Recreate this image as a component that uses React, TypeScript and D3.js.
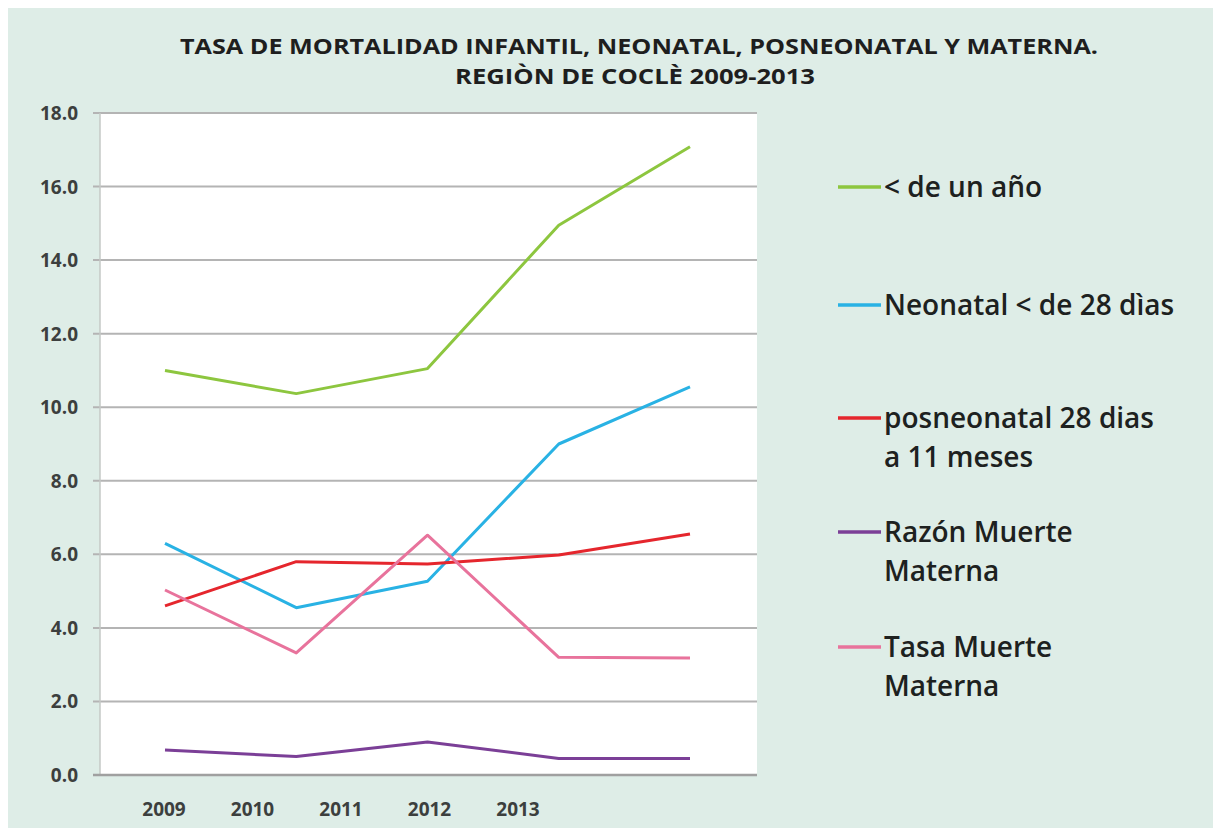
import * as d3 from "d3";
import React, {useEffect, useRef} from "react";

const years = ["2009", "2010", "2011", "2012", "2013"];
const menorUnAnio = [11.0, 10.37, 11.05, 14.95, 17.08];
const neonatal = [6.3, 4.55, 5.27, 9.0, 10.55];
const posneonatal = [4.6, 5.8, 5.74, 5.98, 6.55];
const razonMaterna = [0.68, 0.5, 0.9, 0.45, 0.45];
const tasaMaterna = [5.03, 3.32, 6.52, 3.2, 3.18];
const yTicks = [0, 2, 4, 6, 8, 10, 12, 14, 16, 18];

const series = [
    {values: menorUnAnio, color: "#8dc63f", label: ["< de un año"]},
    {values: neonatal, color: "#29b2e4", label: ["Neonatal < de 28 dìas"]},
    {values: posneonatal, color: "#e5262d", label: ["posneonatal 28 dias", "a 11 meses"]},
    {values: razonMaterna, color: "#7b3f97", label: ["Razón Muerte", "Materna"]},
    {values: tasaMaterna, color: "#e8739c", label: ["Tasa Muerte", "Materna"]},
];
// draw order: the ones underneath first
const drawOrder = [3, 0, 1, 2, 4];

const App = () => {
    const ref = useRef(null);

    useEffect(() => {
        const root = d3.select(ref.current);
        root.selectAll("*").remove();
        // page coordinates (body margin is 8px)
        const svg = root.append("g").attr("transform", "translate(-8,-8)");

        svg.append("rect")
            .attr("x", 8).attr("y", 8)
            .attr("width", 1213).attr("height", 820)
            .attr("fill", "#deede7");

        const plot = {left: 100, right: 757, top: 113, bottom: 775};

        svg.append("rect")
            .attr("x", plot.left).attr("y", plot.top)
            .attr("width", plot.right - plot.left)
            .attr("height", plot.bottom - plot.top)
            .attr("fill", "#ffffff");

        // title
        const title = svg.append("g")
            .attr("font-family", "'Open Sans', sans-serif")
            .attr("font-weight", "bold")
            .attr("font-size", 22)
            .attr("fill", "#1e1e1e")
            .attr("text-anchor", "middle");
        title.append("text")
            .attr("x", 639).attr("y", 54)
            .attr("textLength", 918).attr("lengthAdjust", "spacingAndGlyphs")
            .text("TASA DE MORTALIDAD INFANTIL, NEONATAL, POSNEONATAL Y MATERNA.");
        title.append("text")
            .attr("x", 635).attr("y", 84)
            .attr("textLength", 360).attr("lengthAdjust", "spacingAndGlyphs")
            .text("REGIÒN DE COCLÈ 2009-2013");

        const y = d3.scaleLinear()
            .domain([0, 18])
            .range([plot.bottom, plot.top]);

        // data points don't line up with the year labels in the original
        const x = d3.scalePoint()
            .domain(d3.range(years.length))
            .range([165, 690]);
        const xLabel = d3.scalePoint()
            .domain(years)
            .range([164, 518]);

        // gridlines
        svg.append("g")
            .selectAll("line")
            .data(yTicks.filter(d => d > 0))
            .join("line")
            .attr("x1", plot.left - 7)
            .attr("x2", plot.right)
            .attr("y1", d => y(d))
            .attr("y2", d => y(d))
            .attr("stroke", "#b4b4b4")
            .attr("stroke-width", 2);

        // axes
        svg.append("line")
            .attr("x1", plot.left).attr("x2", plot.left)
            .attr("y1", plot.top).attr("y2", plot.bottom)
            .attr("stroke", "#c4c8c6").attr("stroke-width", 1.5);
        svg.append("line")
            .attr("x1", plot.left - 7).attr("x2", plot.right)
            .attr("y1", plot.bottom).attr("y2", plot.bottom)
            .attr("stroke", "#a0a0a0").attr("stroke-width", 2.5);

        svg.append("g")
            .attr("font-family", "'Open Sans', sans-serif")
            .attr("font-weight", "bold")
            .attr("font-size", 19)
            .attr("fill", "#3c3f3e")
            .attr("text-anchor", "end")
            .selectAll("text")
            .data(yTicks)
            .join("text")
            .attr("x", 78)
            .attr("y", d => y(d) + 7)
            .text(d => d3.format(".1f")(d));

        svg.append("g")
            .attr("font-family", "'Open Sans', sans-serif")
            .attr("font-weight", "bold")
            .attr("font-size", 19)
            .attr("fill", "#3c3f3e")
            .attr("text-anchor", "middle")
            .selectAll("text")
            .data(years)
            .join("text")
            .attr("x", d => xLabel(d))
            .attr("y", 816)
            .text(d => d);

        const line = d3.line()
            .x((d, i) => x(i))
            .y(d => y(d));

        svg.append("g")
            .selectAll("path")
            .data(drawOrder.map(i => series[i]))
            .join("path")
            .attr("d", d => line(d.values))
            .attr("fill", "none")
            .attr("stroke", d => d.color)
            .attr("stroke-width", 3)
            .attr("stroke-linejoin", "round");

        // legend
        const legendY = [187, 305, 418, 532, 647];
        const legend = svg.append("g")
            .selectAll("g")
            .data(series)
            .join("g")
            .attr("transform", (d, i) => `translate(0,${legendY[i]})`);
        legend.append("line")
            .attr("x1", 838).attr("x2", 881)
            .attr("y1", 0).attr("y2", 0)
            .attr("stroke", d => d.color)
            .attr("stroke-width", 3.5);
        legend.append("text")
            .attr("font-family", "'Open Sans', sans-serif")
            .attr("font-size", 28)
            .attr("font-weight", 600)
            .attr("fill", "#1d2120")
            .selectAll("tspan")
            .data(d => d.label)
            .join("tspan")
            .attr("x", 884)
            .attr("y", (d, i) => 10 + i * 39)
            .text(d => d);
    }, []);

    return (
        <svg ref={ref} width={1213} height={820} style={{display: "block"}}/>
    );
};

export default App;
